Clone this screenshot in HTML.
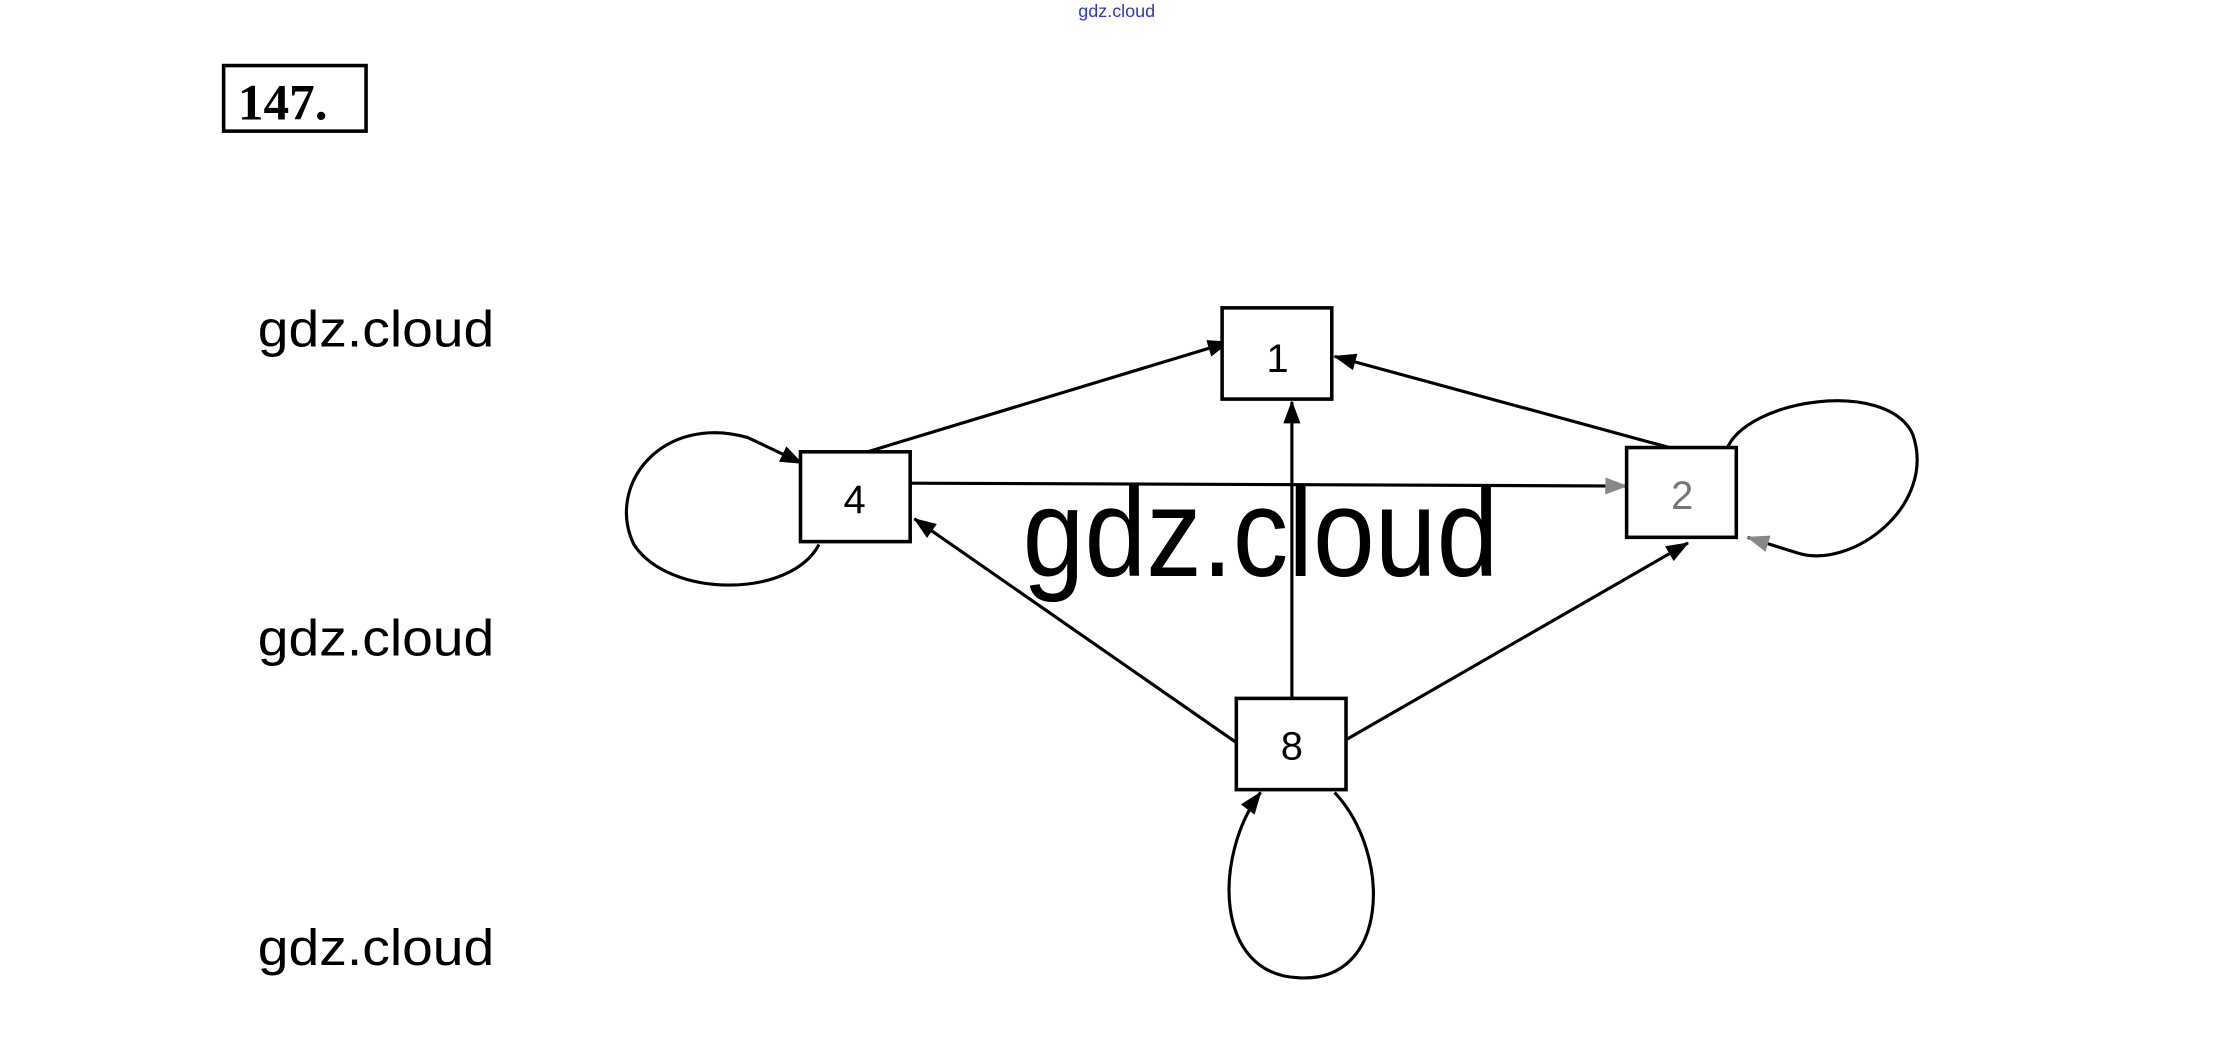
<!DOCTYPE html>
<html><head><meta charset="utf-8"><style>
html,body{margin:0;padding:0;background:#fff;width:2222px;height:1059px;overflow:hidden}
svg{display:block}
</style></head><body>
<svg width="2222" height="1059" viewBox="0 0 1560 743" preserveAspectRatio="none" xmlns="http://www.w3.org/2000/svg">
<defs><marker id="a" markerWidth="16" markerHeight="12" refX="15" refY="6" orient="auto" markerUnits="userSpaceOnUse"><path d="M0,0 L16,6 L0,12 z" fill="#000"/></marker>
<marker id="g" markerWidth="16" markerHeight="12" refX="15" refY="6" orient="auto" markerUnits="userSpaceOnUse"><path d="M0,0 L16,6 L0,12 z" fill="#888"/></marker></defs>
<text x="784" y="12" font-family="Liberation Sans, sans-serif" font-size="12" fill="#3333cc" text-anchor="middle" textLength="54" lengthAdjust="spacingAndGlyphs">gdz.cloud</text>
<rect x="157" y="46" width="100" height="46" fill="none" stroke="#000" stroke-width="2.5"/>
<text x="167" y="84" font-family="Liberation Serif, serif" font-weight="bold" font-size="36">147.</text>
<g font-family="Liberation Sans, sans-serif" font-size="36" fill="#000">
<text x="181" y="243" textLength="166" lengthAdjust="spacingAndGlyphs">gdz.cloud</text>
<text x="181" y="460" textLength="166" lengthAdjust="spacingAndGlyphs">gdz.cloud</text>
<text x="181" y="677" textLength="166" lengthAdjust="spacingAndGlyphs">gdz.cloud</text>
</g>
<g stroke="#000" stroke-width="2.2" fill="none">
<line x1="609" y1="317" x2="863" y2="240" marker-end="url(#a)"/>
<line x1="1172" y1="314" x2="937" y2="250" marker-end="url(#a)"/>
<line x1="907" y1="490" x2="907" y2="282" marker-end="url(#a)"/>
<line x1="639" y1="339" x2="1142" y2="341" marker-end="url(#g)"/>
<line x1="868" y1="521" x2="642" y2="364" marker-end="url(#a)"/>
<line x1="945" y1="519" x2="1185" y2="381" marker-end="url(#a)"/>
<path d="M575,382 C555,420 470,420 445,382 C425,340 465,290 525,307 L563,325" marker-end="url(#a)"/>
<path d="M1212,316 C1225,280 1325,265 1343,305 C1360,355 1300,400 1262,388 L1227,377" marker-end="url(#g)"/>
<path d="M937,556 C978,600 975,690 912,686 C852,684 852,600 885,556" marker-end="url(#a)"/>
</g>
<g stroke="#000" stroke-width="2.5" fill="#fff">
<rect x="858" y="216" width="77" height="64"/>
<rect x="562" y="317" width="77" height="63"/>
<rect x="1142" y="314" width="77" height="63"/>
<rect x="868" y="490" width="77" height="64"/>
</g>
<g font-family="Liberation Sans, sans-serif" font-size="28" text-anchor="middle">
<text x="897" y="261">1</text>
<text x="600" y="360">4</text>
<text x="1181" y="357" fill="#777">2</text>
<text x="907" y="533">8</text>
</g>
<text x="718" y="404" font-family="Liberation Sans, sans-serif" font-size="88" textLength="334" lengthAdjust="spacingAndGlyphs">gdz.cloud</text>
</svg>
</body></html>
